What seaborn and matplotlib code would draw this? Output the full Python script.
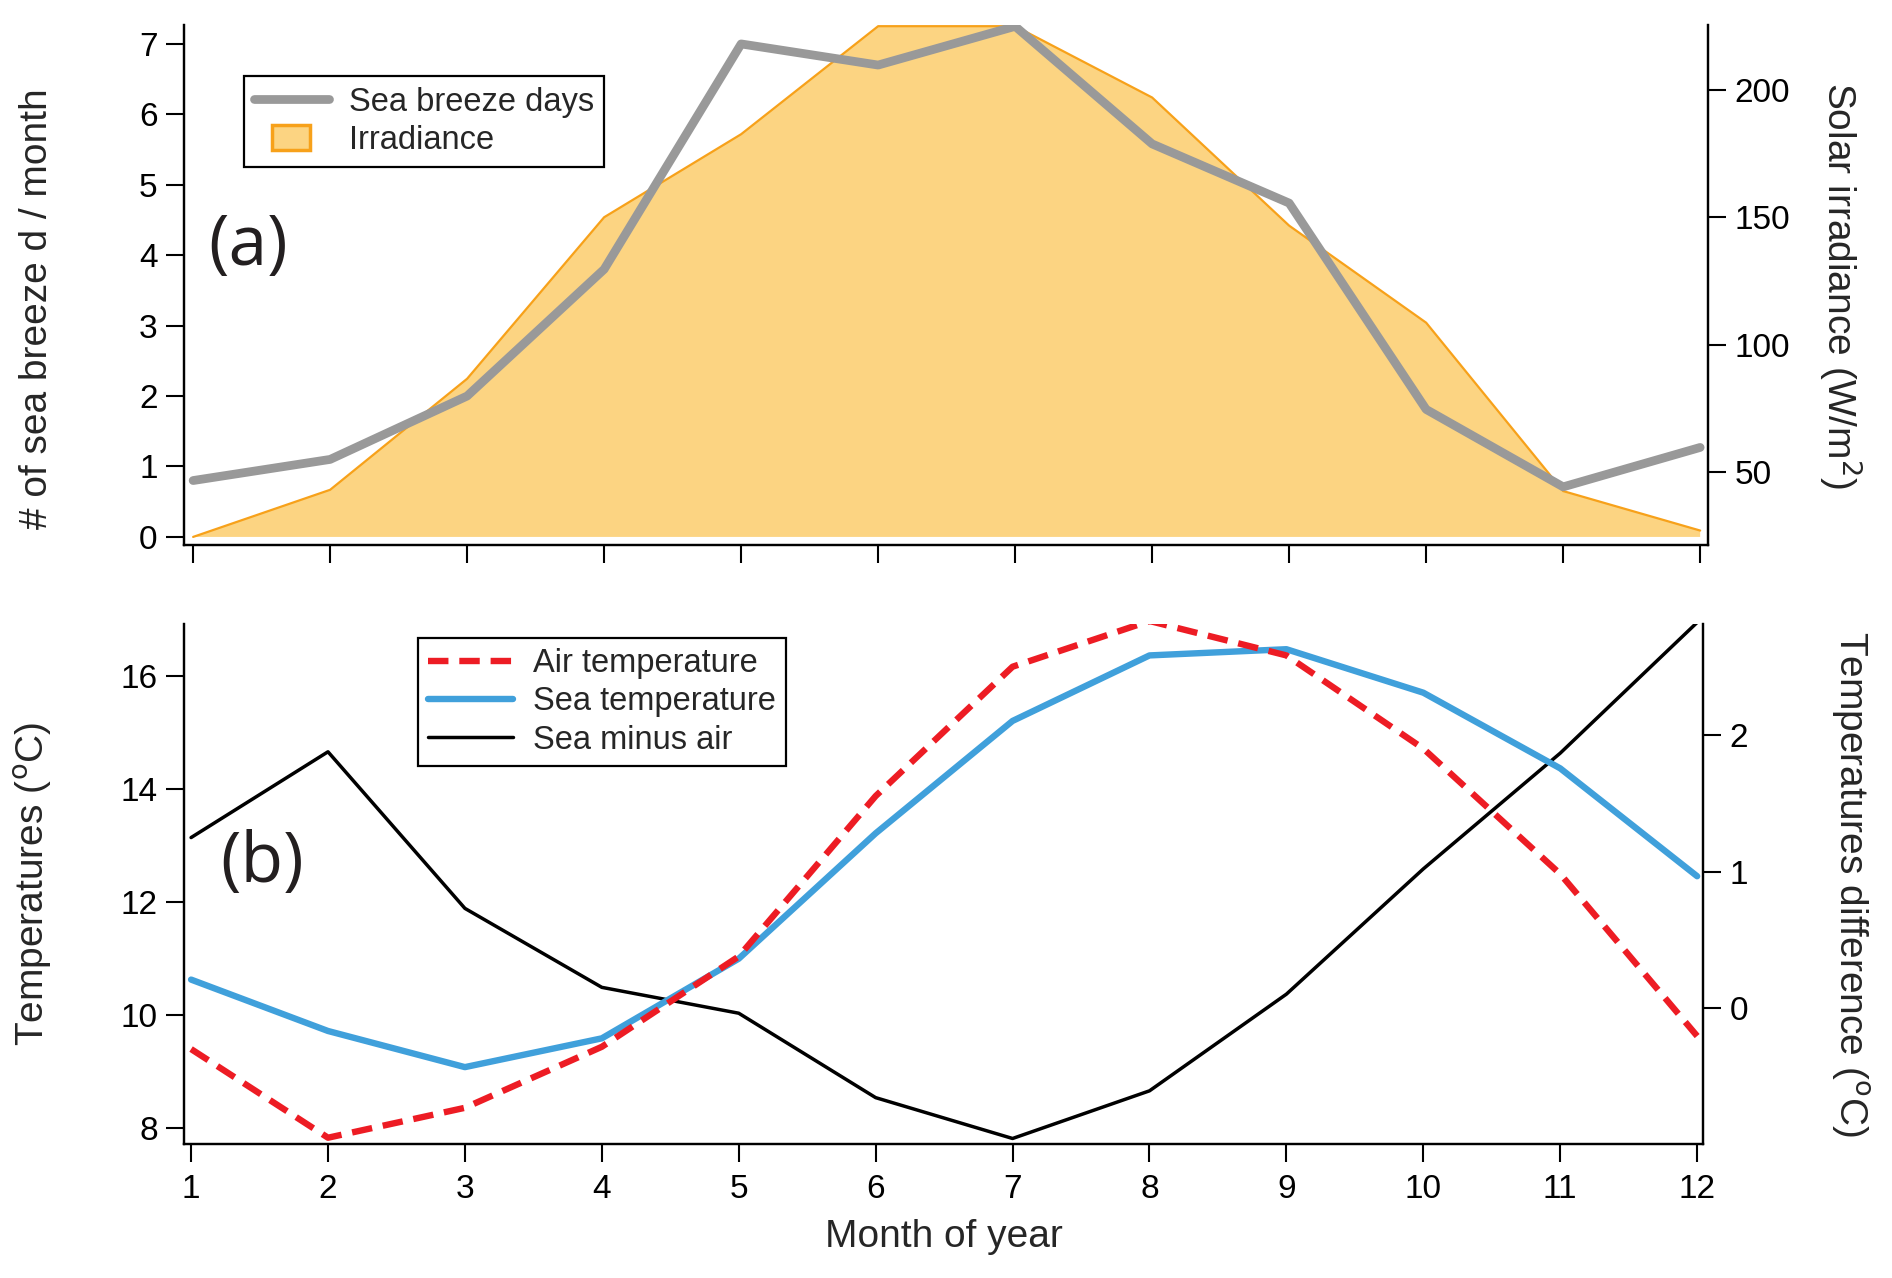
import numpy as np
import pandas as pd
import matplotlib
matplotlib.use("Agg")
import matplotlib.pyplot as plt
import seaborn as sns
from matplotlib.patches import Patch, Rectangle
from matplotlib.legend_handler import HandlerPatch
import warnings

warnings.filterwarnings('ignore')

# ---- data ----
months = list(range(1, 13))
sea_breeze_days = [0.8, 1.1, 2.0, 3.8, 7.0, 6.7, 7.25, 5.58, 4.74, 1.81, 0.71, 1.27]
irradiance = [24.5, 43, 86.6, 150, 182.6, 225, 225, 197, 146.7, 108.6, 42.5, 27]

air_temp = [9.4, 7.83, 8.36, 9.44, 11.04, 13.88, 16.17, 16.98, 16.37, 14.72, 12.5, 9.63]
sea_temp = [10.63, 9.72, 9.08, 9.59, 11.0, 13.22, 15.21, 16.37, 16.48, 15.71, 14.37, 12.46]
sea_minus_air = [1.25, 1.88, 0.73, 0.15, -0.04, -0.66, -0.96, -0.61, 0.1, 1.02, 1.87, 2.83]

# ---- style ----
sns.set_theme(style="ticks")
plt.rcParams['font.family'] = ['Liberation Sans', 'DejaVu Sans']
plt.rcParams['axes.linewidth'] = 1.5
NARROW = ['Liberation Sans Narrow', 'Liberation Sans', 'DejaVu Sans']
TICK_FS = 24
LABEL_FS = 28
LEG_FS = 23.5

GRAY = '#999999'
ORANGE_FILL = '#FCD482'
ORANGE_EDGE = '#F7A11A'
RED = '#ED1C24'
BLUE = '#40A0DB'

df_top = pd.DataFrame({'Month': months, 'SeaBreeze': sea_breeze_days, 'Irradiance': irradiance})
df_bot = pd.DataFrame({'Month': months, 'Air': air_temp, 'Sea': sea_temp, 'Diff': sea_minus_air})

fig = plt.figure(figsize=(18.92, 12.78), dpi=100)
ax_a = fig.add_axes([0.0973, 0.5733, 0.8055, 0.4072])
ax_a2 = ax_a.twinx()
ax_b = fig.add_axes([0.0973, 0.1049, 0.8029, 0.4070])
ax_b2 = ax_b.twinx()


def style_axis(ax):
    ax.spines['top'].set_visible(False)
    for s in ['left', 'right', 'bottom']:
        ax.spines[s].set_linewidth(1.6)
        ax.spines[s].set_color('black')
    ax.tick_params(axis='both', which='major', direction='out', length=13, width=1.5,
                   colors='black', labelsize=TICK_FS)
    ax.tick_params(axis='y', pad=6)
    ax.tick_params(axis='x', pad=9)
    for lab in ax.get_xticklabels() + ax.get_yticklabels():
        lab.set_family(NARROW)


def small_patch(legend, orig_handle, xdescent, ydescent, width, height, fontsize):
    # square-ish swatch centred in the handle box, like the reference legend
    return Rectangle((-xdescent + width * 0.24, -ydescent - height * 0.05),
                     width * 0.5, height * 1.1)


# ==========================================
# (a) sea breeze days + irradiance
# ==========================================
ax_a2.fill_between(df_top['Month'], df_top['Irradiance'], min(irradiance),
                   facecolor=ORANGE_FILL, edgecolor='none', label='Irradiance')
sns.lineplot(data=df_top, x='Month', y='Irradiance', ax=ax_a2, color=ORANGE_EDGE,
             lw=1.6, legend=False)
sns.lineplot(data=df_top, x='Month', y='SeaBreeze', ax=ax_a, color=GRAY, lw=6.3,
             label='Sea breeze days', legend=False)
ax_a.set_zorder(ax_a2.get_zorder() + 1)
ax_a.patch.set_visible(False)

ax_a.set_xlim(0.934, 12.058)
ax_a.set_ylim(-0.12, 7.27)
ax_a2.set_ylim(21.2, 225.5)
ax_a.set_xticks(months)
ax_a.set_xticklabels([])
ax_a.set_yticks(range(0, 8))
ax_a2.set_yticks([50, 100, 150, 200])
ax_a.set_xlabel('')
ax_a.set_ylabel('# of sea breeze d / month', fontsize=LABEL_FS, va='center')
ax_a.yaxis.set_label_coords(-0.0965, 0.455)
ax_a2.set_ylabel('Solar irradiance (W/m$^{2}$)', fontsize=LABEL_FS, rotation=270, va='center')
ax_a2.yaxis.set_label_coords(1.087, 0.5)
style_axis(ax_a)
style_axis(ax_a2)

h_line = ax_a.get_lines()[0]
h_patch = Patch(facecolor=ORANGE_FILL, edgecolor=ORANGE_EDGE, lw=2.5)
leg = ax_a.legend([h_line, h_patch], ['Sea breeze days', 'Irradiance'],
                  loc='upper left', bbox_to_anchor=(0.039, 0.901), borderaxespad=0,
                  frameon=True, fancybox=False, edgecolor='black', framealpha=1,
                  prop={'family': NARROW, 'size': LEG_FS}, handlelength=2.3,
                  handleheight=0.7, labelspacing=0.22, borderpad=0.32, handletextpad=0.6,
                  handler_map={Patch: HandlerPatch(patch_func=small_patch)})
leg.get_frame().set_linewidth(1.6)
ax_a.text(0.016, 0.573, '(a)', transform=ax_a.transAxes, fontsize=50,
          family=['Open Sans', 'DejaVu Sans'], ha='left', va='center', color='#231F20')

# ==========================================
# (b) temperatures
# ==========================================
sns.lineplot(data=df_bot, x='Month', y='Diff', ax=ax_b2, color='black', lw=2.5,
             legend=False)
sns.lineplot(data=df_bot, x='Month', y='Sea', ax=ax_b, color=BLUE, lw=4.6,
             legend=False)
sns.lineplot(data=df_bot, x='Month', y='Air', ax=ax_b, color=RED, lw=4.6,
             legend=False)
ax_b.get_lines()[1].set_dashes((3.2, 1.7))
ax_b.set_zorder(ax_b2.get_zorder() + 1)
ax_b.patch.set_visible(False)

ax_b.set_xlim(0.949, 12.044)
ax_b.set_ylim(7.72, 16.93)
ax_b2.set_ylim(-1.0, 2.82)
ax_b.set_xticks(months)
ax_b.set_yticks([8, 10, 12, 14, 16])
ax_b2.set_yticks([0, 1, 2])
ax_b.set_xlabel('Month of year', fontsize=28, family=NARROW, va='center')
ax_b.xaxis.set_label_coords(0.5, -0.179)
ax_b.set_ylabel(r'Temperatures ($^{\rm o}$C)', fontsize=LABEL_FS, va='center')
ax_b.yaxis.set_label_coords(-0.0994, 0.5)
ax_b2.set_ylabel(r'Temperatures difference ($^{\rm o}$C)', fontsize=LABEL_FS,
                 rotation=270, va='center')
ax_b2.yaxis.set_label_coords(1.097, 0.5)
style_axis(ax_b)
style_axis(ax_b2)

h_air = ax_b.get_lines()[1]
h_sea = ax_b.get_lines()[0]
h_diff = ax_b2.get_lines()[0]
leg2 = ax_b.legend([h_air, h_sea, h_diff], ['Air temperature', 'Sea temperature', 'Sea minus air'],
                   loc='upper left', bbox_to_anchor=(0.154, 0.973), borderaxespad=0,
                   frameon=True, fancybox=False, edgecolor='black', framealpha=1,
                   prop={'family': NARROW, 'size': LEG_FS}, handlelength=2.6,
                   labelspacing=0.22, borderpad=0.32, handletextpad=0.6)
leg2.get_frame().set_linewidth(1.6)
ax_b.text(0.024, 0.538, '(b)', transform=ax_b.transAxes, fontsize=50,
          family=['Open Sans', 'DejaVu Sans'], ha='left', va='center', color='#231F20')

fig.savefig('out.png', dpi=100)
